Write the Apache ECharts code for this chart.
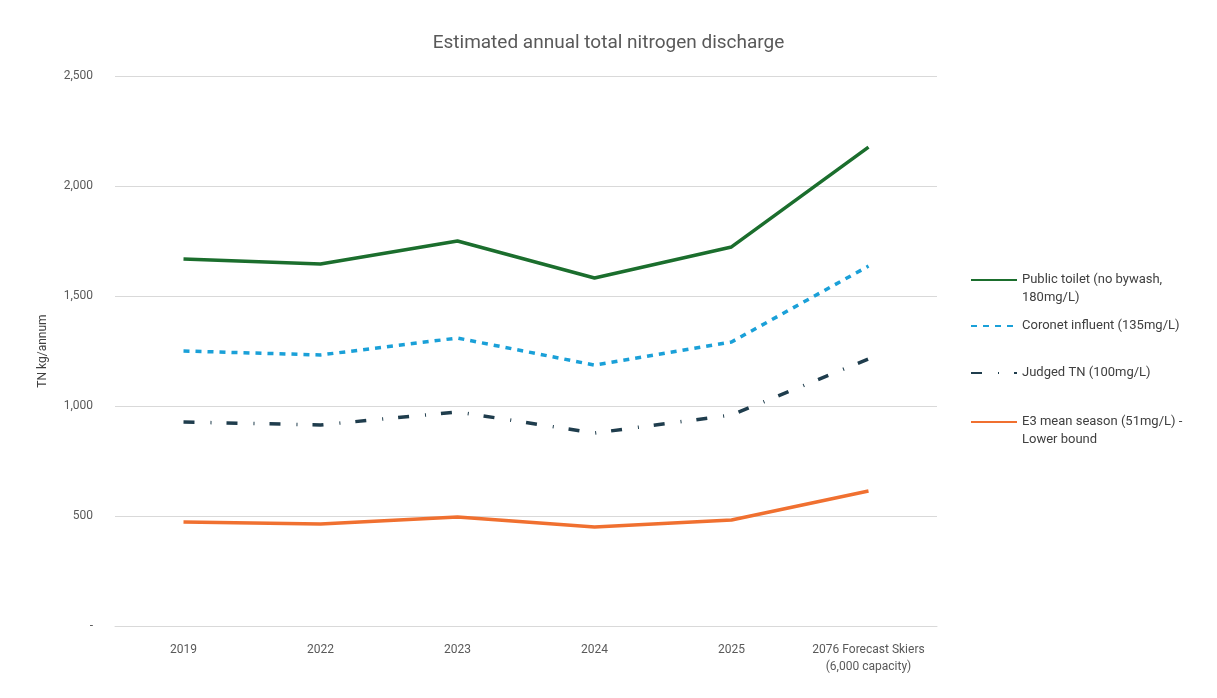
<!DOCTYPE html>
<html lang="en" style="height: 100%">
<head>
  <meta charset="utf-8">
</head>
<body style="height: 100%; margin: 0; background: #fff">
  <div id="container" style="height: 100%"></div>

  <script type="text/javascript" src="https://fastly.jsdelivr.net/npm/echarts@6.0.0/dist/echarts.min.js"></script>

  <script type="text/javascript">
    // categories and values (TN kg/annum)
    var categories = ['2019', '2022', '2023', '2024', '2025', '2076 Forecast Skiers\n(6,000 capacity)'];
    var publicToilet = [1668, 1645, 1750, 1582, 1723, 2177];
    var coronetInfluent = [1250, 1232, 1309, 1186, 1291, 1636];
    var judgedTN = [927, 914, 973, 877, 959, 1214];
    var e3MeanSeason = [473, 464, 495, 450, 482, 614];

    var seriesNames = [
      'Public toilet (no bywash,\n180mg/L)',
      'Coronet influent (135mg/L)',
      'Judged TN (100mg/L)',
      'E3 mean season (51mg/L) -\nLower bound'
    ];

    var dom = document.getElementById('container');
    var myChart = echarts.init(dom, null, { renderer: 'canvas' });

    var fontFamily = 'Roboto, "Liberation Sans", sans-serif';

    // one legend per item so the uneven vertical spacing can be kept;
    // two-line labels get a blank leading line so the icon sits on the first text line
    function legendFor(name, top, twoLines) {
      return {
        data: [name],
        left: 970,
        top: top,
        padding: 0,
        itemWidth: 46,
        itemHeight: 14,
        itemStyle: { opacity: 0 },
        formatter: function (n) { return twoLines ? ' \n' + n : n; },
        textStyle: { color: '#404040', fontSize: 13, fontFamily: fontFamily, lineHeight: 18 }
      };
    }

    var option = {
      backgroundColor: '#fff',
      title: {
        text: 'Estimated annual total nitrogen discharge',
        left: 'center',
        top: 29,
        textStyle: { color: '#595959', fontSize: 19, fontWeight: 'normal', fontFamily: fontFamily }
      },
      legend: [
        legendFor(seriesNames[0], 253, true),
        legendFor(seriesNames[1], 317, false),
        legendFor(seriesNames[2], 364, false),
        legendFor(seriesNames[3], 395, true)
      ],
      grid: {
        left: 115,
        right: 280,
        top: 76,
        bottom: 72
      },
      xAxis: {
        type: 'category',
        boundaryGap: true,
        data: categories,
        axisLine: { lineStyle: { color: '#d9d9d9' } },
        axisTick: { show: false },
        axisLabel: { interval: 0, color: '#595959', fontSize: 12, fontFamily: fontFamily, margin: 15, lineHeight: 17 }
      },
      yAxis: {
        type: 'value',
        min: 0,
        max: 2500,
        interval: 500,
        name: 'TN kg/annum',
        nameLocation: 'middle',
        nameGap: 66,
        nameTextStyle: { color: '#404040', fontSize: 12, fontFamily: fontFamily },
        axisLine: { show: false },
        axisTick: { show: false },
        splitLine: { lineStyle: { color: '#d9d9d9' } },
        axisLabel: {
          color: '#595959',
          fontSize: 12,
          fontFamily: fontFamily,
          margin: 22,
          formatter: function (v) { return v === 0 ? '-' : v.toLocaleString('en-US'); }
        }
      },
      series: [
        {
          name: seriesNames[0],
          type: 'line',
          symbol: 'none',
          data: publicToilet,
          itemStyle: { color: '#1b6e2d' },
          lineStyle: { color: '#1b6e2d', width: 3.5 }
        },
        {
          name: seriesNames[1],
          type: 'line',
          symbol: 'none',
          data: coronetInfluent,
          itemStyle: { color: '#1aa0d8' },
          lineStyle: { color: '#1aa0d8', width: 3.5, type: [6, 6] }
        },
        {
          name: seriesNames[2],
          type: 'line',
          symbol: 'none',
          data: judgedTN,
          itemStyle: { color: '#1f3d4d' },
          lineStyle: { color: '#1f3d4d', width: 3.5, type: [11, 16, 1, 15] }
        },
        {
          name: seriesNames[3],
          type: 'line',
          symbol: 'none',
          data: e3MeanSeason,
          itemStyle: { color: '#f07030' },
          lineStyle: { color: '#f07030', width: 3.5 }
        }
      ]
    };

    myChart.setOption(option);
    window.addEventListener('resize', myChart.resize);
  </script>
</body>
</html>
